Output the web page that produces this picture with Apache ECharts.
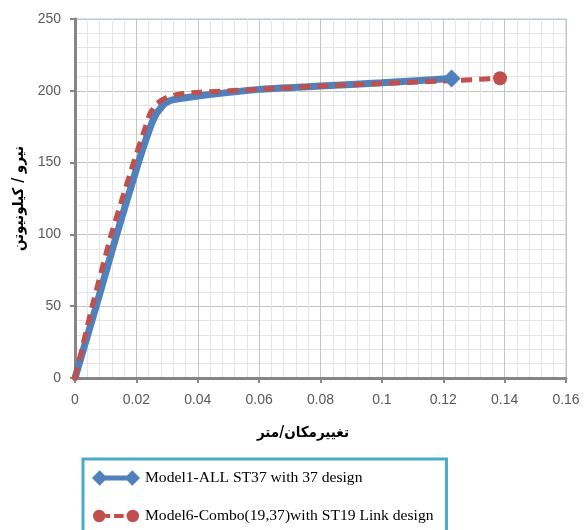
<!DOCTYPE html>
<html>
<head>
<meta charset="utf-8">
<script src="https://cdn.jsdelivr.net/npm/echarts@6/dist/echarts.min.js"></script>
<style>
html,body{margin:0;padding:0;background:#fff;}
#chart{width:586px;height:530px;}
</style>
</head>
<body>
<div id="chart"></div>
<script>
// Data
var seriesNames = ['Model1-ALL ST37 with 37 design', 'Model6-Combo(19,37)with ST19 Link design'];
var model1X = [0, 0.0069, 0.0136, 0.0206, 0.0242, 0.0266, 0.0293, 0.0315, 0.0407, 0.06, 0.08, 0.1, 0.1227];
var model1Y = [0, 50, 100, 149.5, 172.7, 184.3, 191.3, 193.5, 196.5, 201, 203.3, 205.6, 208.6];
var model6X = [0, 0.0056, 0.0118, 0.019, 0.0226, 0.0244, 0.0266, 0.03, 0.0342, 0.0407, 0.06, 0.08, 0.1, 0.12, 0.1385];
var model6Y = [0, 50, 100, 149.5, 172.7, 184, 191, 195.5, 197.8, 199, 201, 203.3, 205.1, 206.8, 208.7];
var xTitle = 'تغییرمکان/متر';
var yTitle = 'نیرو / کیلونیوتن';

function pairs(xs, ys) { return xs.map(function (x, i) { return [x, ys[i]]; }); }
function endSize(first, last, n) {
  return function (v, p) { return p.dataIndex === 0 ? first : (p.dataIndex === n - 1 ? last : 0); };
}

var blueIcon = 'path://M0,8 L8,0 L16,8 L8,16 Z M8,5.5 L42,5.5 L42,10.5 L8,10.5 Z M34,8 L42,0 L50,8 L42,16 Z';
var redIcon = 'path://M1,8 A6.5,6.5 0 1,1 14,8 A6.5,6.5 0 1,1 1,8 Z M14,6 L19,6 L19,10 L14,10 Z M23,6 L33,6 L33,10 L23,10 Z M36,8 A6.5,6.5 0 1,1 49,8 A6.5,6.5 0 1,1 36,8 Z M0,0 L0.01,0 L0.01,0.01 Z M50,16 L49.99,16 L49.99,15.99 Z';

var chart = echarts.init(document.getElementById('chart'), null, { renderer: 'canvas' });
var axisLabelStyle = { color: '#595959', fontFamily: 'Liberation Sans', fontSize: 14 };
var titleFont = 'DejaVu Sans Condensed, DejaVu Sans';
chart.setOption({
  animation: false,
  grid: { left: 75, right: 20, top: 19, bottom: 152, show: true, borderColor: '#a9c4e8', borderWidth: 1, backgroundColor: 'transparent' },
  legend: {
    orient: 'vertical', left: 83, top: 459, height: 60,
    padding: [11, 13, 25, 9],
    itemWidth: 48, itemHeight: 16, itemGap: 22,
    borderColor: '#4bacc6', borderWidth: 3,
    textStyle: { fontFamily: 'Liberation Serif', fontSize: 15.6, color: '#000' },
    data: [
      { name: seriesNames[0], icon: blueIcon, itemStyle: { color: '#4f81bd' } },
      { name: seriesNames[1], icon: redIcon, itemStyle: { color: '#c0504d' } }
    ]
  },
  xAxis: {
    type: 'value', min: 0, max: 0.16, interval: 0.02,
    name: xTitle, nameLocation: 'middle', nameGap: 48,
    nameTextStyle: { fontFamily: titleFont, fontWeight: 'bold', fontSize: 15, color: '#000', padding: [0, 35, 0, 0] },
    axisLine: { show: true, onZero: false, lineStyle: { color: '#868686', width: 3 } },
    axisTick: { show: true, inside: false, length: 5, lineStyle: { color: '#868686', width: 2 } },
    axisLabel: Object.assign({ margin: 15 }, axisLabelStyle),
    splitLine: { show: true, lineStyle: { color: '#c4c4c4', width: 1 } },
    minorTick: { show: false, splitNumber: 5 },
    minorSplitLine: { show: true, lineStyle: { color: '#e4e4e4', width: 1 } }
  },
  yAxis: {
    type: 'value', min: 0, max: 250, interval: 50,
    name: yTitle, nameLocation: 'middle', nameGap: 48,
    nameTextStyle: { fontFamily: titleFont, fontWeight: 'bold', fontSize: 15, color: '#000' },
    axisLine: { show: true, onZero: false, lineStyle: { color: '#868686', width: 3 } },
    axisTick: { show: true, inside: false, length: 5, lineStyle: { color: '#868686', width: 2 } },
    axisLabel: Object.assign({ margin: 14 }, axisLabelStyle),
    splitLine: { show: true, lineStyle: { color: '#c4c4c4', width: 1 } },
    minorTick: { show: false, splitNumber: 5 },
    minorSplitLine: { show: true, lineStyle: { color: '#e4e4e4', width: 1 } }
  },
  series: [
    {
      name: seriesNames[0], type: 'line', data: pairs(model1X, model1Y),
      smooth: 0.15, symbol: 'diamond', symbolSize: endSize(0, 18, model1X.length),
      showAllSymbol: true,
      itemStyle: { color: '#4f81bd' },
      lineStyle: { color: '#4f81bd', width: 7 }
    },
    {
      name: seriesNames[1], type: 'line', data: pairs(model6X, model6Y),
      smooth: 0.15, symbol: 'circle', symbolSize: endSize(6, 14, model6X.length),
      showAllSymbol: true,
      itemStyle: { color: '#c0504d' },
      lineStyle: { color: '#c0504d', width: 5, type: [11, 7] }
    }
  ]
});
</script>
</body>
</html>
